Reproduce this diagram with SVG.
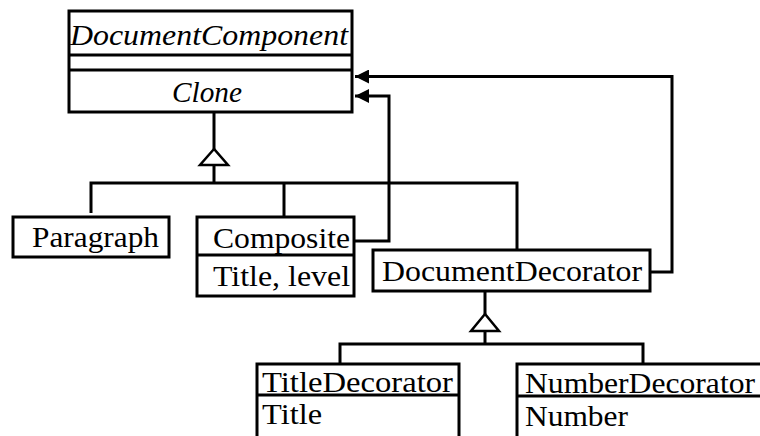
<svg xmlns="http://www.w3.org/2000/svg" width="760" height="436" viewBox="0 0 760 436">
  <style>
    .box { fill: #ffffff; stroke: #000000; stroke-width: 3; }
    .edge { fill: none; stroke: #000000; stroke-width: 3; }
    .wire { fill: none; stroke: #000000; stroke-width: 3; }
    .gen { fill: #ffffff; stroke: #000000; stroke-width: 2.5; stroke-linejoin: miter; }
    text { font-size: 30px; fill: #000000; }
    .abstract { font-style: italic; }
  </style>
  <defs>
    <marker id="arrow" markerUnits="userSpaceOnUse" markerWidth="16" markerHeight="14" refX="14" refY="7" orient="auto">
      <path d="M0,0 L14,7 L0,14 Z" fill="#000000"/>
    </marker>
  </defs>

  <!-- connectors -->
  <g id="connectors">
    <!-- generalization into DocumentComponent -->
    <path class="wire" d="M214,112 V149"/>
    <polygon class="gen" points="214,149 200,165 228,165"/>
    <path class="wire" d="M214,165 V183"/>
    <path class="wire" d="M91,213 V183 H517 V249"/>
    <path class="wire" d="M284,183 V216"/>
    <!-- generalization into DocumentDecorator -->
    <path class="wire" d="M485,291 V314"/>
    <polygon class="gen" points="485,314 471,331 499,331"/>
    <path class="wire" d="M485,331 V344"/>
    <path class="wire" d="M340,363 V344 H643 V363"/>
    <!-- aggregation links back to the component -->
    <path class="wire" d="M354,241 H389 V96 H355" marker-end="url(#arrow)"/>
    <path class="wire" d="M651,272 H672 V76.5 H355" marker-end="url(#arrow)"/>
  </g>

  <g font-family="Liberation Serif, serif">
    <g id="DocumentComponent">
      <rect class="box" x="69" y="11" width="283" height="101"/>
      <line class="edge" x1="69" y1="55" x2="352" y2="55"/>
      <line class="edge" x1="69" y1="70" x2="352" y2="70"/>
      <text class="abstract" x="70" y="45" textLength="278" lengthAdjust="spacingAndGlyphs">DocumentComponent</text>
      <text class="abstract" x="172" y="102" textLength="70" lengthAdjust="spacingAndGlyphs">Clone</text>
    </g>

    <g id="Paragraph">
      <rect class="box" x="13" y="217" width="156" height="40"/>
      <text x="32" y="247" textLength="127" lengthAdjust="spacingAndGlyphs">Paragraph</text>
    </g>

    <g id="Composite">
      <rect class="box" x="197" y="217" width="157" height="79"/>
      <line class="edge" x1="197" y1="255" x2="354" y2="255"/>
      <text x="213" y="248" textLength="137" lengthAdjust="spacingAndGlyphs">Composite</text>
      <text x="213" y="286" textLength="137" lengthAdjust="spacingAndGlyphs">Title, level</text>
    </g>

    <g id="DocumentDecorator">
      <rect class="box" x="373" y="250" width="277" height="41"/>
      <text x="382" y="281" textLength="260" lengthAdjust="spacingAndGlyphs">DocumentDecorator</text>
    </g>

    <g id="TitleDecorator">
      <path class="edge" d="M257,438 V364 H459 V438"/>
      <line class="edge" x1="257" y1="395" x2="459" y2="395"/>
      <text x="262" y="392" textLength="191" lengthAdjust="spacingAndGlyphs">TitleDecorator</text>
      <text x="262" y="424" textLength="60" lengthAdjust="spacingAndGlyphs">Title</text>
    </g>

    <g id="NumberDecorator">
      <path class="edge" d="M517,438 V364 H764"/>
      <line class="edge" x1="517" y1="396" x2="764" y2="396"/>
      <text x="525" y="393" textLength="230" lengthAdjust="spacingAndGlyphs">NumberDecorator</text>
      <text x="525" y="426" textLength="103" lengthAdjust="spacingAndGlyphs">Number</text>
    </g>
  </g>
</svg>
